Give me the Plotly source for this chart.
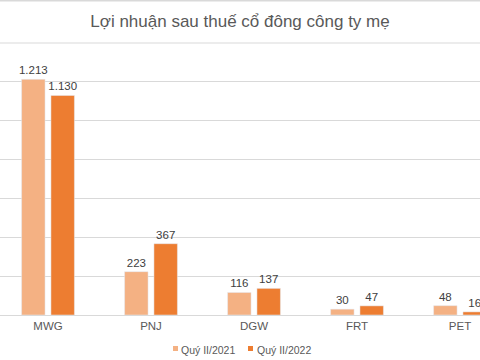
import plotly.graph_objects as go

categories = ["MWG", "PNJ", "DGW", "FRT", "PET"]
q2_2021 = [1213, 223, 116, 30, 48]
q2_2022 = [1130, 367, 137, 47, 16]
series_names = ["Quý II/2021", "Quý II/2022"]
colors = ["#F4B183", "#ED7D31"]
title_text = "Lợi nhuận sau thuế cổ đông công ty mẹ"

W, H = 480, 360
T, B = 43, 45
PH = H - T - B


def fmt(v):
    return f"{v:,}".replace(",", ".")


def py(pix):
    """pixel row -> paper y"""
    return (H - B - pix) / PH


def px(pix):
    return pix / W


fig = go.Figure()
for name, vals, col in zip(series_names, [q2_2021, q2_2022], colors):
    fig.add_trace(go.Bar(
        x=categories, y=vals, name=name, marker_color=col,
        text=[fmt(v) for v in vals], textposition="outside",
        textfont=dict(size=11.5, color="#404040", family="Liberation Sans, Arial"),
        constraintext="none", cliponaxis=False, showlegend=False,
    ))

shapes = [
    dict(type="line", xref="paper", yref="paper", x0=0, x1=1, y0=py(0.8), y1=py(0.8),
         line=dict(color="#d9d9d9", width=1.5)),
    dict(type="line", xref="paper", yref="paper", x0=0, x1=1, y0=1, y1=1,
         line=dict(color="#d9d9d9", width=1)),
]
annotations = []
leg_sq = [173, 248]
leg_tx = [179, 255]
for name, col, sx, tx in zip(series_names, colors, leg_sq, leg_tx):
    shapes.append(dict(type="rect", xref="paper", yref="paper",
                       x0=px(sx), x1=px(sx + 5), y0=py(351), y1=py(346),
                       fillcolor=col, line=dict(width=0)))
    annotations.append(dict(text=name, xref="paper", yref="paper", x=px(tx), y=py(350),
                            xanchor="left", yanchor="middle", showarrow=False,
                            font=dict(size=10.5, color="#595959")))

fig.update_layout(
    width=W, height=H,
    margin=dict(l=0, r=0, t=T, b=B),
    paper_bgcolor="white", plot_bgcolor="white",
    barmode="group", bargap=0.43, bargroupgap=0.2,
    font=dict(family="Liberation Sans, Arial", color="#595959"),
    title=dict(text=title_text, x=0.5, xanchor="center", y=1 - 21 / 360,
               yanchor="middle", yref="container",
               font=dict(size=17, color="#595959")),
    xaxis=dict(range=[-0.466, 4.194], showgrid=False, showline=True,
               linecolor="#d9d9d9", linewidth=1, ticks="",
               tickfont=dict(size=11.5, color="#595959"), fixedrange=True),
    yaxis=dict(range=[0, 1400], dtick=200, showgrid=True, gridcolor="#d9d9d9",
               showticklabels=False, zeroline=False, fixedrange=True),
    showlegend=False,
    shapes=shapes,
    annotations=annotations,
)

fig.write_html("out.html")
